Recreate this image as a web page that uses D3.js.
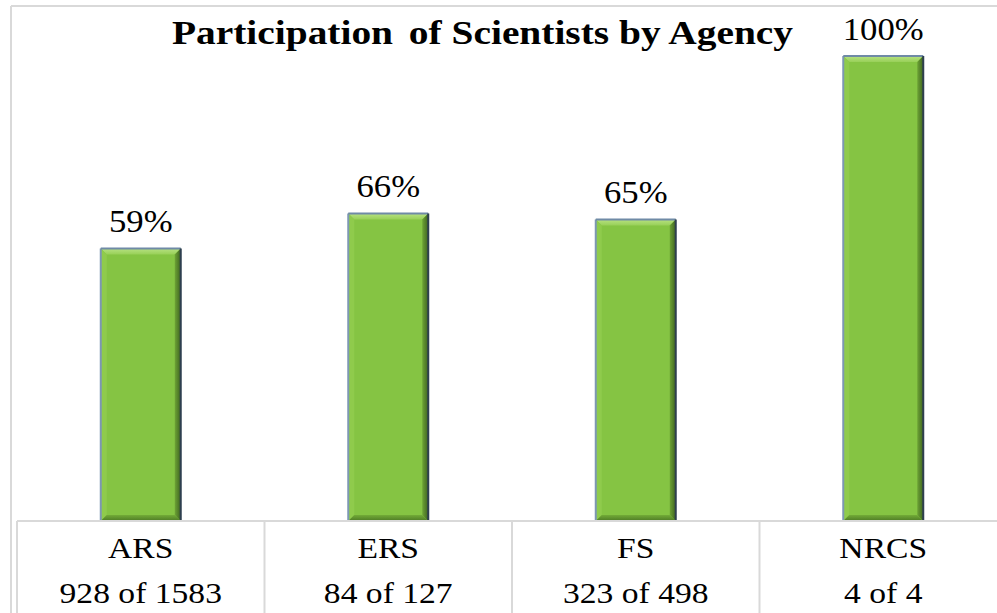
<!DOCTYPE html>
<html>
<head>
<meta charset="utf-8">
<script src="https://d3js.org/d3.v7.min.js"></script>
<style>
  html, body { margin: 0; padding: 0; background: #fff; }
  svg { display: block; }
</style>
</head>
<body>
<svg id="chart" width="997" height="613"></svg>
<script>
const title = "Participation of Scientists by Agency";
const agencies = ["ARS", "ERS", "FS", "NRCS"];
const participants = [928, 84, 323, 4];
const totals = [1583, 127, 498, 4];
const percentLabels = ["59%", "66%", "65%", "100%"];

const data = agencies.map((a, i) => ({
  agency: a,
  pct: participants[i] / totals[i] * 100,
  label: percentLabels[i],
  sub: participants[i] + " of " + totals[i]
}));

const W = 997, H = 613;
const svg = d3.select("#chart");
const FONT = "'Liberation Serif', 'Times New Roman', serif";
const SX = 1.12; // horizontal stretch of the reference text

const x = d3.scaleBand().domain(agencies).range([17, 1007]).padding(0);
const y = d3.scaleLinear().domain([0, 100]).range([521, 56]);
const barW = 80;

// outer frame
svg.append("line").attr("x1", 11).attr("x2", W).attr("y1", 6).attr("y2", 6)
  .attr("stroke", "#d9d9d9").attr("stroke-width", 2);
svg.append("line").attr("x1", 11).attr("x2", 11).attr("y1", 6).attr("y2", H)
  .attr("stroke", "#d9d9d9").attr("stroke-width", 2);

// title (split so the wider gap after the first word can be reproduced)
const tw = title.split(" ");
const titleText = svg.append("text")
  .attr("x", 482.5).attr("y", 44)
  .attr("text-anchor", "middle")
  .attr("font-family", FONT)
  .attr("font-weight", "bold")
  .attr("font-size", 33)
  .attr("textLength", 621)
  .attr("lengthAdjust", "spacingAndGlyphs")
  .attr("fill", "#000");
titleText.append("tspan").text(tw[0]);
titleText.append("tspan").attr("dx", 5).text(" " + tw.slice(1).join(" "));

// defs: gradients
const defs = svg.append("defs");
const gTop = defs.append("linearGradient").attr("id", "gTop").attr("x1", 0).attr("y1", 0).attr("x2", 0).attr("y2", 1);
gTop.append("stop").attr("offset", "0%").attr("stop-color", "#b8e283");
gTop.append("stop").attr("offset", "100%").attr("stop-color", "#98d058");
const gRight = defs.append("linearGradient").attr("id", "gRight").attr("x1", 0).attr("y1", 0).attr("x2", 1).attr("y2", 0);
gRight.append("stop").attr("offset", "0%").attr("stop-color", "#6da335");
gRight.append("stop").attr("offset", "100%").attr("stop-color", "#3f6420");
const gBot = defs.append("linearGradient").attr("id", "gBot").attr("x1", 0).attr("y1", 0).attr("x2", 0).attr("y2", 1);
gBot.append("stop").attr("offset", "0%").attr("stop-color", "#72ab37");
gBot.append("stop").attr("offset", "100%").attr("stop-color", "#4d7a25");

const bars = svg.append("g").selectAll("g.bar").data(data).join("g").attr("class", "bar");
const bv = 6;
bars.each(function(d) {
  const g = d3.select(this);
  const cx = x(d.agency) + x.bandwidth() / 2;
  const x0 = cx - barW / 2, x1 = cx + barW / 2;
  const y0 = y(d.pct), y1 = y(0);
  g.append("rect").attr("x", x0).attr("y", y0).attr("width", barW).attr("height", y1 - y0)
    .attr("fill", "#85c443");
  g.append("path").attr("d", `M${x0},${y0}L${x1},${y0}L${x1 - bv},${y0 + bv}L${x0 + bv},${y0 + bv}Z`)
    .attr("fill", "url(#gTop)");
  g.append("path").attr("d", `M${x0},${y0}L${x0 + bv},${y0 + bv}L${x0 + bv},${y1 - bv}L${x0},${y1}Z`)
    .attr("fill", "#8fcb4c");
  g.append("path").attr("d", `M${x1},${y0}L${x1},${y1}L${x1 - bv},${y1 - bv}L${x1 - bv},${y0 + bv}Z`)
    .attr("fill", "url(#gRight)");
  g.append("path").attr("d", `M${x0},${y1}L${x1},${y1}L${x1 - bv},${y1 - bv}L${x0 + bv},${y1 - bv}Z`)
    .attr("fill", "url(#gBot)");
  g.append("line").attr("x1", x0).attr("x2", x0).attr("y1", y0).attr("y2", y1)
    .attr("stroke", "#7d97b3").attr("stroke-width", 2);
  g.append("line").attr("x1", x0).attr("x2", x1).attr("y1", y0).attr("y2", y0)
    .attr("stroke", "#6f8aa6").attr("stroke-width", 2);
  g.append("line").attr("x1", x1).attr("x2", x1).attr("y1", y0).attr("y2", y1)
    .attr("stroke", "#2e3f4f").attr("stroke-width", 2);
  g.append("text")
    .attr("transform", `translate(${cx},${y0 - 16}) scale(${SX},1)`)
    .attr("text-anchor", "middle")
    .attr("font-family", FONT)
    .attr("font-size", 31)
    .attr("fill", "#000")
    .text(d.label);
});

// data table
const tbl = svg.append("g");
tbl.append("line").attr("x1", 17).attr("x2", W).attr("y1", 521).attr("y2", 521)
  .attr("stroke", "#d9d9d9").attr("stroke-width", 2);
agencies.forEach((a) => {
  tbl.append("line").attr("x1", x(a)).attr("x2", x(a)).attr("y1", 521).attr("y2", H)
    .attr("stroke", "#d9d9d9").attr("stroke-width", 2);
});
const cells = tbl.selectAll("g.cell").data(data).join("g").attr("class", "cell");
cells.append("text")
  .attr("transform", d => `translate(${x(d.agency) + x.bandwidth() / 2},558) scale(${SX},1)`)
  .attr("text-anchor", "middle")
  .attr("font-family", FONT)
  .attr("font-size", 30)
  .attr("fill", "#000")
  .text(d => d.agency);
cells.append("text")
  .attr("transform", d => `translate(${x(d.agency) + x.bandwidth() / 2},603) scale(${SX},1)`)
  .attr("text-anchor", "middle")
  .attr("font-family", FONT)
  .attr("font-size", 30)
  .attr("fill", "#000")
  .text(d => d.sub);
</script>
</body>
</html>
